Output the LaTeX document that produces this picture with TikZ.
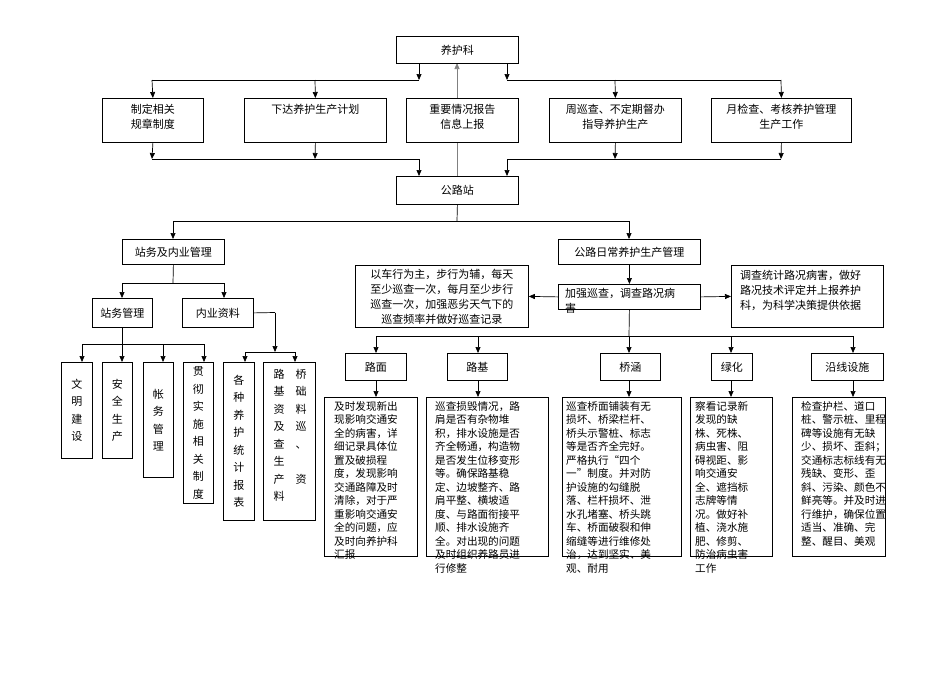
\documentclass[tikz,border=0pt]{standalone}
\usepackage{fontspec}
\setmainfont{Noto Sans CJK SC}
\usetikzlibrary{arrows.meta,calc}
\begin{document}
\begin{tikzpicture}[x=1pt,y=-1pt,
  box/.style={draw,fill=white,line width=0.8pt,inner sep=0pt,anchor=north west},
  txt/.style={font=\fontsize{11}{15}\selectfont,align=center,inner sep=0pt},
  det/.style={font=\fontsize{10.6}{13.5}\selectfont,align=left,inner sep=0pt,anchor=north west},
  vt/.style={font=\fontsize{11}{17.5}\selectfont,align=center,inner sep=0pt},
  ar/.style={-{Triangle[length=6,width=5]},line width=0.7pt},
  ln/.style={line width=0.7pt}]
\useasboundingbox (0,0) rectangle (950,672);
\newcommand{\bx}[5]{\node[box,minimum width={(#4-#2)*1pt},minimum height={(#5-#3)*1pt}] (#1) at (#2,#3) {};}
% up arrow behind
\coordinate (upA) at (457,176);
\coordinate (upB) at (457,63);
\draw[ar,gray] (upA) -- (upB);
% top
\bx{yk}{396}{36}{518}{63}
\node[txt] (tyk) at (yk.center) {养护科};
\bx{b1}{102}{98}{203}{142}
\bx{b2}{244}{98}{386}{142}
\bx{b3}{406}{98}{518}{142}
\bx{b4}{549}{98}{681}{142}
\bx{b5}{711}{98}{851}{142}
\node[txt,anchor=north] (t1) at ($(b1.north)+(0,6)$) {制定相关\\规章制度};
\node[txt,anchor=north] (t2) at ($(b2.north)+(0,6)$) {下达养护生产计划};
\node[txt,anchor=north] (t3) at ($(b3.north)+(0,6)$) {重要情况报告\\信息上报};
\node[txt,anchor=north] (t4) at ($(b4.north)+(0,6)$) {周巡查、不定期督办\\指导养护生产};
\node[txt,anchor=north] (t5) at ($(b5.north)+(0,6)$) {月检查、考核养护管理\\生产工作};
\bx{gl}{396}{176}{518}{204}
\node[txt] (tgl) at (gl.center) {公路站};
% top buses
\coordinate (L1) at (419,80); \coordinate (R1) at (507,80);
\draw[ar] (419,63) -- (L1);
\draw[ar] (507,63) -- (R1);
\draw[ln] (L1) -- (152,80);
\draw[ln] (R1) -- (781,80);
\draw[ar] (152,80) -- (b1.north);
\draw[ar] (315,80) -- (b2.north);
\draw[ar] (615,80) -- (b4.north);
\draw[ar] (781,80) -- (b5.north);
\draw[ar] (b1.south) -- (152,159);
\draw[ar] (b2.south) -- (315,159);
\draw[ar] (b4.south) -- (615,159);
\draw[ar] (b5.south) -- (781,159);
\draw[ln] (152,159) -- (419,159);
\draw[ln] (507,159) -- (781,159);
\draw[ar] (419,159) -- (419,176);
\draw[ar] (507,159) -- (507,176);
% level 2
\bx{zw}{122}{239}{224}{264}
\node[txt] (tzw) at (zw.center) {站务及内业管理};
\bx{rc}{558}{239}{700}{264}
\node[txt] (trc) at (rc.center) {公路日常养护生产管理};
\draw[ln] (gl.south) -- (457,221);
\draw[ln] (173,221) -- (629,221);
\draw[ar] (173,221) -- (173,239);
\draw[ar] (629,221) -- (629,239);
% left branch
\bx{zg}{92}{298}{152}{327}
\node[txt] (tzg) at (zg.center) {站务管理};
\bx{ny}{182}{298}{253}{327}
\node[txt] (tny) at (ny.center) {内业资料};
\draw[ln] (zw.south) -- (173,283);
\draw[ln] (122,283) -- (224,283);
\draw[ar] (122,283) -- (122,298);
\draw[ar] (224,283) -- (224,298);
\draw[ln] (122,327) -- (122,344);
\draw[ln] (82,344) -- (204,344);
\bx{v1}{61}{362}{92}{458}
\bx{v2}{102}{362}{132}{458}
\bx{v3}{143}{362}{173}{477}
\bx{v4}{183}{362}{213}{503}
\bx{v5}{223}{362}{254}{520}
\bx{v6}{263}{362}{315}{520}
\draw[ar] (82,344) -- (82,362);
\draw[ar] (122,344) -- (122,362);
\draw[ar] (163,344) -- (163,362);
\draw[ar] (204,344) -- (204,362);
\draw[ln] (ny.east) -- (275,312.5);
\draw[ar] (275,312.5) -- (275,352);
\draw[ln] (245,352) -- (295,352);
\draw[ar] (245,352) -- (245,362);
\draw[ar] (295,352) -- (295,362);
\node[vt] (tv1) at (v1.center) {文\\明\\建\\设};
\node[vt] (tv2) at (v2.center) {安\\全\\生\\产};
\node[vt] (tv3) at (v3.center) {帐\\务\\管\\理};
\node[vt] (tv4) at (v4.center) {贯\\彻\\实\\施\\相\\关\\制\\度};
\node[vt] (tv5) at (v5.center) {各\\种\\养\\护\\统\\计\\报\\表};
\node[vt,anchor=north] (tv6a) at (279,369) {路\\基\\资\\及\\查\\生\\产\\料};
\node[vt,anchor=north] (tv6b) at (301,369) {桥\\础\\料\\巡\\、\\\\资};
% right branch
\bx{jq}{558}{284}{700}{309}
\node[txt,anchor=north west,align=left] (tjq) at (565,288) {加强巡查，调查路况病\\害};
\bx{lt}{355}{265}{528}{327}
\node[txt] (tlt) at (lt.center) {以车行为主，步行为辅，每天\\至少巡查一次，每月至少步行\\巡查一次，加强恶劣天气下的\\巡查频率并做好巡查记录};
\bx{rt}{731}{265}{883}{327}
\node[txt,anchor=north west,align=left] (trt) at (740,270) {调查统计路况病害，做好\\路况技术评定并上报养护\\科，为科学决策提供依据};
\draw[ar] (rc.south) -- (jq.north);
\draw[ar] (jq.west) -- (lt.east);
\draw[ar] (jq.east) -- (rt.west);
\draw[ln] (jq.south) -- (629,336);
\draw[ln] (376,336) -- (853,336);
\bx{c1}{345}{353}{406}{380}
\bx{c2}{447}{353}{507}{380}
\bx{c3}{600}{353}{660}{380}
\bx{c4}{711}{353}{752}{380}
\bx{c5}{811}{353}{883}{380}
\node[txt] (tc1) at (c1.center) {路面};
\node[txt] (tc2) at (c2.center) {路基};
\node[txt] (tc3) at (c3.center) {桥涵};
\node[txt] (tc4) at (c4.center) {绿化};
\node[txt] (tc5) at (c5.center) {沿线设施};
\draw[ar] (376,336) -- (376,353);
\draw[ar] (478,336) -- (478,353);
\draw[ar] (629,336) -- (629,353);
\draw[ar] (731,336) -- (731,353);
\draw[ar] (853,336) -- (853,353);
\bx{d1}{324}{397}{417}{556}
\bx{d2}{426}{397}{548}{556}
\bx{d3}{562}{397}{681}{556}
\bx{d4}{690}{397}{772}{556}
\bx{d5}{792}{397}{885}{556}
\draw[ar] (376,380) -- (376,397);
\draw[ar] (478,380) -- (478,397);
\draw[ar] (629,380) -- (629,397);
\draw[ar] (731,380) -- (731,397);
\draw[ar] (853,380) -- (853,397);
\node[det] (td1) at (334,401) {及时发现新出\\现影响交通安\\全的病害，详\\细记录具体位\\置及破损程\\度，发现影响\\交通路障及时\\清除，对于严\\重影响交通安\\全的问题，应\\及时向养护科\\汇报};
\node[det] (td2) at (435,401) {巡查损毁情况，路\\肩是否有杂物堆\\积，排水设施是否\\齐全畅通，构造物\\是否发生位移变形\\等。确保路基稳\\定、边坡整齐、路\\肩平整、横坡适\\度、与路面衔接平\\顺、排水设施齐\\全。对出现的问题\\及时组织养路员进\\行修整};
\node[det] (td3) at (566,401) {巡查桥面铺装有无\\损坏、桥梁栏杆、\\桥头示警桩、标志\\等是否齐全完好。\\严格执行“四个\\一”制度。并对防\\护设施的勾缝脱\\落、栏杆损坏、泄\\水孔堵塞、桥头跳\\车、桥面破裂和伸\\缩缝等进行维修处\\治，达到坚实、美\\观、耐用};
\node[det] (td4) at (695,401) {察看记录新\\发现的缺\\株、死株、\\病虫害、阻\\碍视距、影\\响交通安\\全、遮挡标\\志牌等情\\况。做好补\\植、浇水施\\肥、修剪、\\防治病虫害\\工作};
\node[det] (td5) at (801,401) {检查护栏、道口\\桩、警示桩、里程\\碑等设施有无缺\\少、损坏、歪斜；\\交通标志标线有无\\残缺、变形、歪\\斜、污染、颜色不\\鲜亮等。并及时进\\行维护，确保位置\\适当、准确、完\\整、醒目、美观};
\end{tikzpicture}
\end{document}
